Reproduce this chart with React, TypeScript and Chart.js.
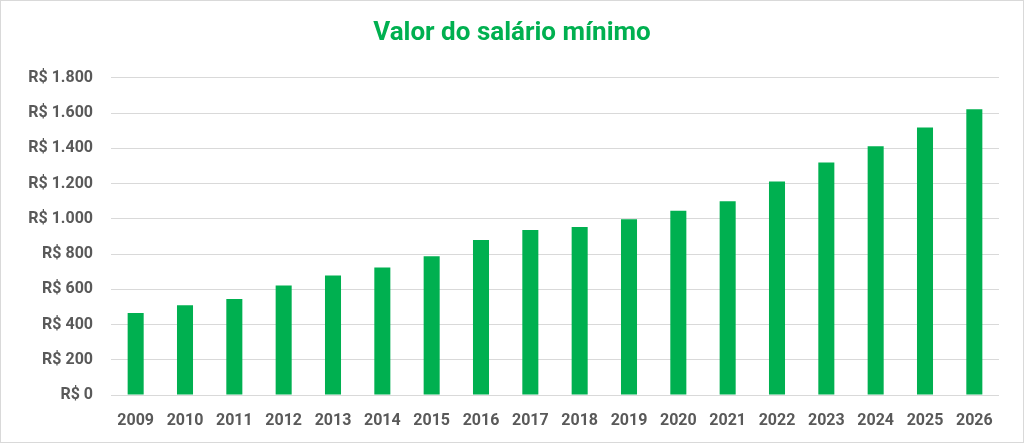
import { useEffect, useRef } from "react";
import { Chart, registerables } from "chart.js";

Chart.register(...registerables);

const years = ["2009", "2010", "2011", "2012", "2013", "2014", "2015", "2016", "2017", "2018", "2019", "2020", "2021", "2022", "2023", "2024", "2025", "2026"];
const salario = [465, 510, 545, 622, 678, 724, 788, 880, 937, 954, 998, 1045, 1100, 1212, 1320, 1412, 1518, 1621];

const fmt = (v: number) => "R$ " + v.toLocaleString("pt-BR");

export default function App() {
  const canvasRef = useRef<HTMLCanvasElement>(null);

  useEffect(() => {
    document.body.style.margin = "0";
    if (!canvasRef.current) return;
    const chart = new Chart(canvasRef.current, {
      type: "bar",
      data: {
        labels: years,
        datasets: [{
          label: "Valor do salário mínimo",
          data: salario,
          backgroundColor: "#00b050",
          barPercentage: 0.65,
          categoryPercentage: 0.5,
        }],
      },
      options: {
        responsive: true,
        maintainAspectRatio: false,
        animation: false,
        layout: { padding: { left: 24, right: 24, top: 0, bottom: 0 } },
        plugins: {
          legend: { display: false },
          tooltip: { enabled: false },
          title: {
            display: true,
            text: "Valor do salário mínimo",
            color: "#00b050",
            font: { family: "Roboto", size: 26, weight: "bold" },
            padding: { top: 17, bottom: 28.6 },
          },
        },
        scales: {
          x: {
            grid: { display: false },
            border: { display: false },
            ticks: { color: "#595959", padding: 8, font: { family: "Roboto", size: 16, weight: "bold" } },
            afterFit: (s: any) => { s.height = 47; },
          },
          y: {
            min: 0,
            max: 1800,
            grid: { color: "#d9d9d9", lineWidth: 1, drawTicks: false },
            border: { display: false },
            ticks: {
              stepSize: 200,
              color: "#595959",
              padding: 18,
              font: { family: "Roboto", size: 16, weight: "bold" },
              callback: (v: any) => fmt(Number(v)),
            },
            afterFit: (s: any) => { s.width = 86; },
          },
        },
      },
    });
    return () => chart.destroy();
  }, []);

  return (
    <div style={{ width: 1024, height: 443, boxSizing: "border-box", border: "1px solid #d9d9d9", background: "#fff", position: "relative" }}>
      <canvas ref={canvasRef} />
    </div>
  );
}
